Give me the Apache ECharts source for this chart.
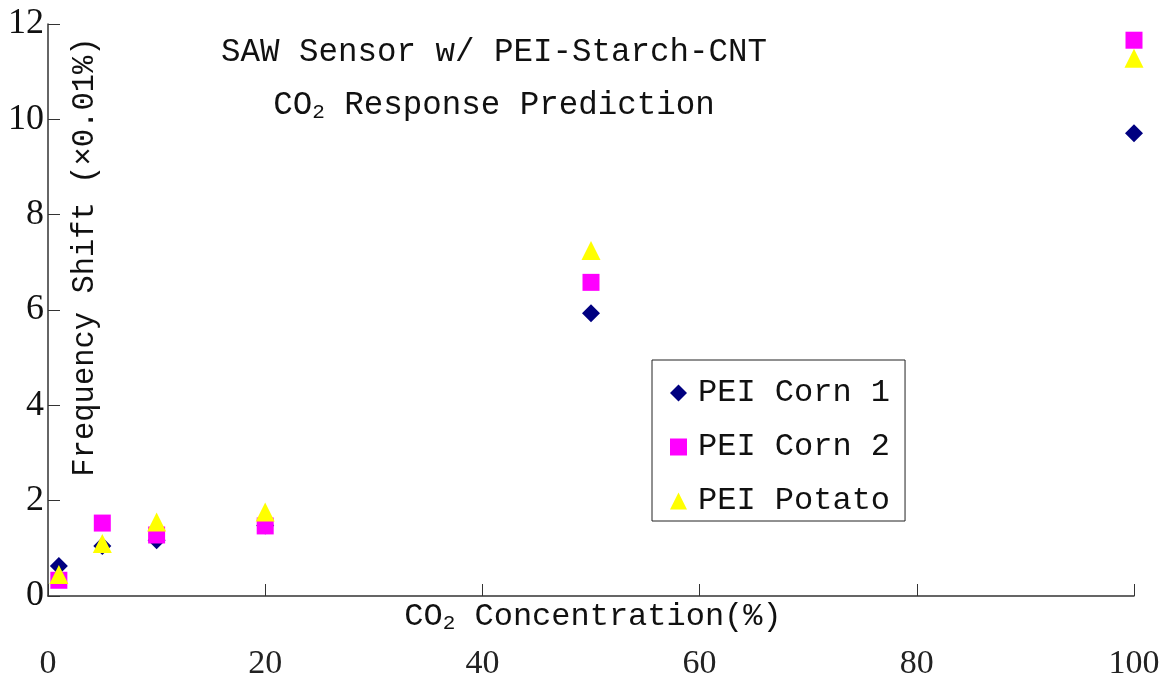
<!DOCTYPE html>
<html>
<head>
<meta charset="utf-8">
<title>SAW Sensor CO2 Response</title>
<script src="https://cdn.jsdelivr.net/npm/echarts@6/dist/echarts.min.js"></script>
<style>
    html, body { margin: 0; padding: 0; background: #fff; }
    #chart { width: 1176px; height: 675px; }
</style>
</head>
<body>
<div id="chart"></div>
<script>
    // 数据：CO2 浓度 (%) 与三种传感器的频移 (×0.01%)
    const concentration = [1, 5, 10, 20, 50, 100];
    const corn1 = [0.63, 1.05, 1.17, 1.48, 5.93, 9.71];
    const corn2 = [0.33, 1.53, 1.28, 1.47, 6.58, 11.66];
    const potato = [0.45, 1.1, 1.55, 1.76, 7.25, 11.28];
    const xTicks = [0, 20, 40, 60, 80, 100];
    const yTicks = [0, 2, 4, 6, 8, 10, 12];

    const monoFont = 'Liberation Mono';
    const serifFont = 'Liberation Serif';

    function pairs(ys) {
        return concentration.map((x, i) => [x, ys[i]]);
    }

    let chart = echarts.init(document.getElementById('chart'));
    let option = {
        backgroundColor: '#fff',
        animation: false,
        title: {
            left: 489,
            top: 21,
            textAlign: 'center',
            text: '{a|SAW Sensor w/ PEI-Starch-CNT}\n{a|CO}{s|2}{a| Response Prediction}',
            textStyle: {
                fontWeight: 'normal',
                rich: {
                    a: {fontFamily: monoFont, fontSize: 32.5, fontWeight: 'normal', color: '#111', lineHeight: 53},
                    s: {fontFamily: monoFont, fontSize: 21, fontWeight: 'normal', color: '#111', lineHeight: 53, padding: [14, 0, 0, 0]}
                }
            }
        },
        legend: {
            orient: 'vertical',
            left: 652,
            top: 360,
            width: 253,
            padding: [17, 15, 4, 18],
            borderColor: '#222',
            borderWidth: 1,
            backgroundColor: '#fff',
            itemWidth: 17,
            itemHeight: 17,
            itemGap: 22,
            textStyle: {fontFamily: monoFont, fontSize: 32, color: '#111', padding: [0, 0, 0, 6]},
            data: [
                {name: 'PEI Corn 1', icon: 'diamond'},
                {name: 'PEI Corn 2', icon: 'rect'},
                {name: 'PEI Potato', icon: 'triangle'}
            ]
        },
        grid: {
            left: 48,
            right: 42,
            top: 24,
            bottom: 79,
            containLabel: false,
            outerBoundsMode: 'none'
        },
        xAxis: {
            type: 'value',
            min: xTicks[0],
            max: xTicks[xTicks.length - 1],
            interval: 20,
            name: '{a|CO}{s|2}{a| Concentration(%)}',
            nameLocation: 'middle',
            nameGap: 3,
            nameMoveOverlap: false,
            nameTextStyle: {
                padding: [0, 0, 0, 4],
                rich: {
                    a: {fontFamily: monoFont, fontSize: 32, color: '#111'},
                    s: {fontFamily: monoFont, fontSize: 21, color: '#111', padding: [14, 0, 0, 0]}
                }
            },
            axisLine: {lineStyle: {color: '#333', width: 1.5}},
            axisTick: {inside: true, length: 12, lineStyle: {color: '#333'}},
            splitLine: {show: false},
            axisLabel: {
                margin: 51,
                fontFamily: serifFont,
                fontSize: 34,
                color: '#222',
                formatter: v => xTicks.includes(v) ? String(v) : ''
            }
        },
        yAxis: {
            type: 'value',
            min: yTicks[0],
            max: yTicks[yTicks.length - 1],
            interval: 2,
            name: 'Frequency Shift (×0.01%)',
            nameLocation: 'middle',
            nameGap: -52,
            nameRotate: 90,
            nameMoveOverlap: false,
            nameTextStyle: {fontFamily: monoFont, fontSize: 30.5, color: '#111', padding: [0, 0, 0, 106]},
            axisLine: {show: true, lineStyle: {color: '#333', width: 1.5}},
            axisTick: {show: true, inside: true, length: 12, lineStyle: {color: '#333'}},
            splitLine: {show: false},
            axisLabel: {
                margin: 4,
                fontFamily: serifFont,
                fontSize: 36,
                color: '#111',
                formatter: v => yTicks.includes(v) ? String(v) : ''
            }
        },
        series: [
            {
                name: 'PEI Corn 1',
                type: 'scatter',
                symbol: 'diamond',
                symbolSize: 18,
                itemStyle: {color: '#000080', opacity: 1},
                data: pairs(corn1),
                z: 2
            },
            {
                name: 'PEI Corn 2',
                type: 'scatter',
                symbol: 'rect',
                symbolSize: 17,
                itemStyle: {color: '#ff00ff', opacity: 1},
                data: pairs(corn2),
                z: 3
            },
            {
                name: 'PEI Potato',
                type: 'scatter',
                symbol: 'triangle',
                symbolSize: 19,
                itemStyle: {color: '#ffff00', opacity: 1},
                data: pairs(potato),
                z: 4
            }
        ]
    };
    chart.setOption(option);

    window.addEventListener('resize', function () {
        chart.resize();
    });
</script>
</body>
</html>
